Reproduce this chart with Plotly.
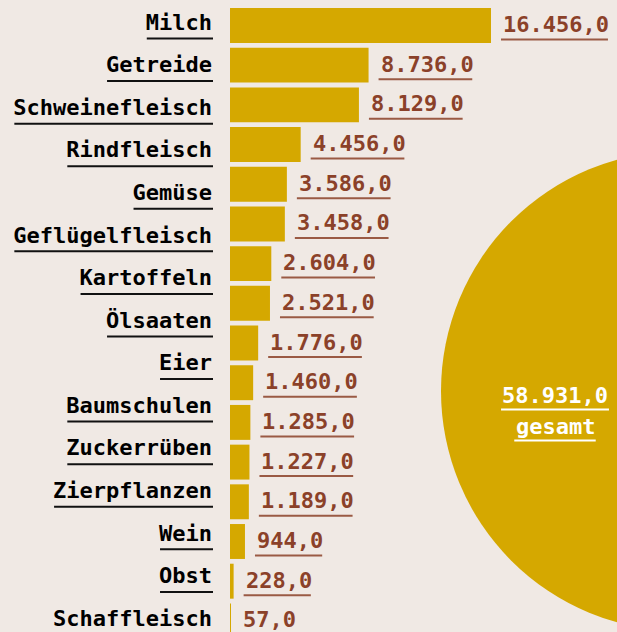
import plotly.graph_objects as go

# tick labels (15) as shown on the left axis
categories = ["Milch", "Getreide", "Schweinefleisch", "Rindfleisch", "Gemüse",
              "Geflügelfleisch", "Kartoffeln", "Ölsaaten", "Eier", "Baumschulen",
              "Zuckerrüben", "Zierpflanzen", "Wein", "Obst", "Schaffleisch"]
# bar values (16) as shown by the bars
values = [16456.0, 8736.0, 8129.0, 4456.0, 3586.0, 3458.0, 2604.0, 2521.0,
          1776.0, 1460.0, 1285.0, 1227.0, 1189.0, 944.0, 228.0, 57.0]
total_value = 58931.0
total_label = "gesamt"

BG = "#f0e9e4"
GOLD = "#d5a800"
BROWN = "#8b4129"
FONT = "DejaVu Sans Mono"
FS = 22
CW = 0.602 * FS  # monospace advance width
STANDOFF = 17


def fmt_de(v):
    s = f"{v:,.1f}"
    return s.replace(",", "X").replace(".", ",").replace("X", ".")


bar_pos = list(range(len(values)))

fig = go.Figure()
fig.add_trace(go.Bar(
    x=values, y=bar_pos, orientation="h",
    marker=dict(color=GOLD, line=dict(width=0)),
    hoverinfo="skip", width=0.88,
))
# invisible trace to carry the category labels axis
fig.add_trace(go.Scatter(
    x=[0] * len(categories), y=categories, yaxis="y2", mode="markers",
    marker=dict(opacity=0), hoverinfo="skip", showlegend=False,
))

# value labels + underlines
for p, v in zip(bar_pos, values):
    t = fmt_de(v)
    fig.add_annotation(
        x=v, y=p, xref="x", yref="y", text=t,
        showarrow=False, xanchor="left", yanchor="middle", xshift=10, yshift=1,
        font=dict(family=FONT, size=FS, color=BROWN, weight="bold"),
    )
    fig.add_shape(
        type="line", xref="x", yref="y", xsizemode="pixel", ysizemode="pixel",
        xanchor=v, yanchor=p, x0=10, x1=10 + len(t) * CW + 1, y0=-14, y1=-14,
        line=dict(color="#9a5a44", width=2),
    )

# category label underlines
for i, c in enumerate(categories):
    fig.add_shape(
        type="line", xref="paper", yref="y2", xsizemode="pixel", ysizemode="pixel",
        xanchor=0, yanchor=i, x0=-STANDOFF - len(c) * CW, x1=-STANDOFF,
        y0=-16.5, y1=-16.5, line=dict(color="#111111", width=2),
    )

# total circle
CX, CY = 1.0 + 64 / 387, 1 - (391 - 6) / 626
fig.add_shape(
    type="circle", xref="paper", yref="paper",
    xsizemode="pixel", ysizemode="pixel",
    xanchor=CX, yanchor=CY,
    x0=-240, x1=240, y0=-240, y1=240,
    fillcolor=GOLD, line=dict(width=0), layer="below",
)
TX = 1 - 62 / 387
lines = [fmt_de(total_value), total_label]
for k, t in enumerate(lines):
    ty = 1 - (395 + 31 * k - 6) / 626
    fig.add_annotation(
        xref="paper", yref="paper", x=TX, y=ty, text=t,
        showarrow=False, xanchor="center", yanchor="middle",
        font=dict(family=FONT, size=FS, color="white", weight="bold"),
    )
    w = len(t) * CW
    fig.add_shape(
        type="line", xref="paper", yref="paper", xsizemode="pixel", ysizemode="pixel",
        xanchor=TX, yanchor=ty, x0=-w / 2 - 1, x1=w / 2 + 1, y0=-14.5, y1=-14.5,
        line=dict(color="white", width=2),
    )

fig.update_layout(
    width=617, height=632,
    margin=dict(l=230, r=0, t=6, b=0),
    paper_bgcolor=BG, plot_bgcolor="rgba(0,0,0,0)",
    showlegend=False,
    xaxis=dict(range=[0, 24400], visible=False, fixedrange=True),
    yaxis=dict(
        range=[15.28, -0.49], visible=False, fixedrange=True,
    ),
    yaxis2=dict(
        type="category", categoryorder="array", categoryarray=categories,
        overlaying="y", side="left", fixedrange=True,
        range=[14.33, -0.376], showgrid=False, zeroline=False, showline=False,
        ticks="", ticklabelstandoff=STANDOFF,
        tickfont=dict(family=FONT, size=FS, color="black", weight="bold"),
    ),
)

fig.write_html("out.html", config={"displayModeBar": False},
               post_script="document.body.style.margin='0';document.body.style.overflow='hidden';")
